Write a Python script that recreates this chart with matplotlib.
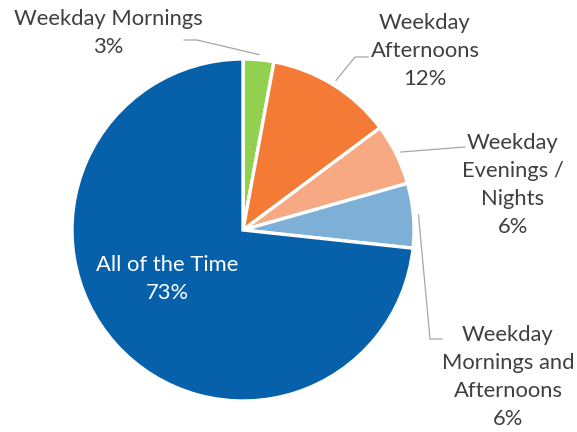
import numpy as np
import matplotlib.pyplot as plt

plt.rcParams['font.family'] = ['Lato', 'DejaVu Sans']

# share of respondents (percent), clockwise from 12 o'clock
categories = ['Weekday Mornings', 'Weekday\nAfternoons', 'Weekday\nEvenings /\nNights',
              'Weekday\nMornings and\nAfternoons', 'All of the Time']
values = [2.9, 11.9, 5.8, 6.1, 73.3]
colors = ['#92D050', '#F37B36', '#F6A982', '#7EAFD6', '#0661AA']

W, H = 577, 432
fig = plt.figure(figsize=(W / 100, H / 100), dpi=100)
ax = fig.add_axes([0, 0, 1, 1])

cx, cy, r = 243, H - 230, 171
wedges, _ = ax.pie(values, colors=colors, startangle=90, counterclock=False,
                   center=(cx, cy), radius=r,
                   wedgeprops=dict(edgecolor='white', linewidth=2.4))
ax.set_xlim(0, W)
ax.set_ylim(0, H)
ax.set_aspect('equal')
ax.axis('off')

txt = '#404040'
line = '#A6A6A6'
fs = 15.8
ls = 1.5

# label layout: text centre and elbow points (pixels from top-left)
layout = [
    (108, 33, [(184, 40), (197, 40)]),
    (425, 51, [(368, 57), (355, 57)]),
    (513, 185, [(465, 147)]),
    (508, 377, [(442, 339), (430, 339)]),
]

for i, (w, v) in enumerate(zip(wedges, values)):
    label = '%s\n%d%%' % (categories[i], round(v))
    if i == len(values) - 1:
        ax.text(167, H - 279, label, ha='center', va='center', color='white',
                fontsize=fs, linespacing=ls)
        continue
    tx, ty, elbow = layout[i]
    ax.text(tx, H - ty, label, ha='center', va='center', color=txt,
            fontsize=fs, linespacing=ls)
    mid = np.deg2rad((w.theta1 + w.theta2) / 2)
    ex = cx + 1.03 * r * np.cos(mid)
    ey = cy + 1.03 * r * np.sin(mid)
    xs = [p[0] for p in elbow] + [ex]
    ys = [H - p[1] for p in elbow] + [ey]
    ax.plot(xs, ys, color=line, lw=0.9)

fig.savefig('out.png', dpi=100)
